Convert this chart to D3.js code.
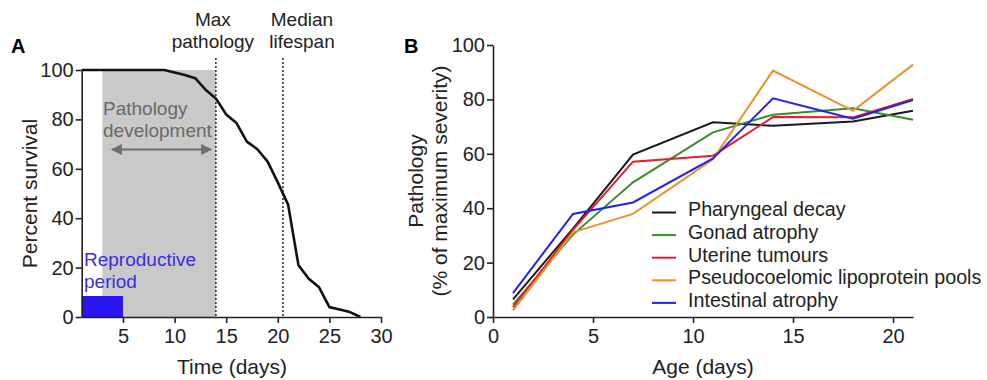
<!DOCTYPE html>
<html>
<head>
<meta charset="utf-8">
<script src="https://cdn.jsdelivr.net/npm/d3@7"></script>
<style>
    body { margin: 0; background: #fff; }
    svg text { font-family: "Liberation Sans", Arial, Helvetica, sans-serif; }
    .axis path, .axis line { stroke: #222; stroke-width: 1.6px; }
    .axis text { font-size: 20px; fill: #222; }
</style>
</head>
<body>
<div id="chart"></div>
<script>
// panel A data - survival
var survDays = [1, 2, 3, 4, 5, 6, 7, 8, 9, 10, 11, 12, 13, 14, 15, 16, 17, 18, 19, 20, 21, 22, 23, 24, 25, 26, 27, 28];
var survPct = [100, 100, 100, 100, 100, 100, 100, 100, 100, 99, 98, 96.7, 92, 88.5, 82, 78.5, 71, 68, 63, 54.5, 45.5, 21, 15.5, 12, 4, 3, 2, 0];
var survTicksX = [5, 10, 15, 20, 25, 30];
var survTicksY = [0, 20, 40, 60, 80, 100];

// shaded periods and markers (days)
var pathologyPeriod = [3, 14];
var reproPeriod = [1, 5];
var reproHeight = 8.5;
var markerDays = [14, 20.5];
var markerLabels = [["Max", "pathology"], ["Median", "lifespan"]];

// panel B data - pathology by age
var ageDays = [1, 4, 7, 11, 14, 18, 21];
var pharyngeal = [6.5, 32.5, 59.7, 71.6, 70.3, 71.9, 75.8];
var gonad = [4.5, 30.3, 49.5, 67.9, 74.4, 76.7, 72.5];
var uterine = [3.5, 32, 57.1, 59.3, 73.5, 73.4, 80.2];
var pseudo = [2.4, 31.1, 37.9, 58, 90.6, 75.8, 92.8];
var intestinal = [8.8, 37.9, 42.1, 58.3, 80.4, 72.9, 79.8];
var seriesNames = ["Pharyngeal decay", "Gonad atrophy", "Uterine tumours", "Pseudocoelomic lipoprotein pools", "Intestinal atrophy"];
var seriesColors = ["#1a1a1a", "#3a8c2c", "#e0202c", "#e8932c", "#2222ee"];
var pathTicksX = [0, 5, 10, 15, 20];
var pathTicksY = [0, 20, 40, 60, 80, 100];

var svgWidth = 987;
var svgHeight = 380;

var svg = d3.select("#chart")
    .append("svg")
    .attr("width", svgWidth)
    .attr("height", svgHeight);

// arrow heads for "pathology development"
var defs = svg.append("defs");
defs.append("marker")
    .attr("id", "head")
    .attr("viewBox", "0 0 10 10")
    .attr("refX", 9)
    .attr("refY", 5)
    .attr("markerWidth", 5)
    .attr("markerHeight", 5)
    .attr("markerUnits", "strokeWidth")
    .attr("orient", "auto-start-reverse")
    .append("path")
    .attr("d", "M0,0 L10,5 L0,10 z")
    .attr("fill", "#6e6e6e");

// ---------------- panel A ----------------
var xA = d3.scaleLinear().domain([1, 30]).range([81.7, 381]);
var yA = d3.scaleLinear().domain([0, 100]).range([317, 70]);

// grey pathology box
svg.append("rect")
    .attr("x", xA(pathologyPeriod[0]))
    .attr("y", yA(100))
    .attr("width", xA(pathologyPeriod[1]) - xA(pathologyPeriod[0]))
    .attr("height", yA(0) - yA(100))
    .attr("fill", "#c9c9c9");

// blue reproductive box
svg.append("rect")
    .attr("x", xA(reproPeriod[0]))
    .attr("y", yA(reproHeight))
    .attr("width", xA(reproPeriod[1]) - xA(reproPeriod[0]))
    .attr("height", yA(0) - yA(reproHeight))
    .attr("fill", "#2a16f2");

// dotted marker lines
svg.selectAll(".marker")
    .data(markerDays)
    .enter()
    .append("line")
    .attr("x1", d => xA(d))
    .attr("x2", d => xA(d))
    .attr("y1", 58)
    .attr("y2", yA(0))
    .attr("stroke", "#333")
    .attr("stroke-width", 1.6)
    .attr("stroke-dasharray", "2,2");

// labels above the marker lines (offset from the line a bit)
var labelShift = [-3, 19];
markerLabels.forEach(function (lines, i) {
    var cx = xA(markerDays[i]) + labelShift[i];
    var t = svg.append("text")
        .attr("x", cx)
        .attr("y", 26)
        .attr("text-anchor", "middle")
        .style("font-size", "19px")
        .attr("fill", "#222");
    lines.forEach(function (s, j) {
        t.append("tspan")
            .attr("x", cx)
            .attr("dy", j === 0 ? 0 : 22)
            .text(s);
    });
});

// survival line
var survLine = d3.line()
    .x((d, i) => xA(survDays[i]))
    .y(d => yA(d));

svg.append("path")
    .datum(survPct)
    .attr("d", survLine)
    .attr("fill", "none")
    .attr("stroke", "#111")
    .attr("stroke-width", 2.6)
    .attr("stroke-linejoin", "round");

// axes A
svg.append("g")
    .attr("class", "axis")
    .attr("transform", `translate(0, ${yA(0)})`)
    .call(d3.axisBottom(xA).tickValues(survTicksX).tickSize(6).tickSizeOuter(0).tickPadding(6));

svg.append("g")
    .attr("class", "axis")
    .attr("transform", `translate(${xA(1)}, 0)`)
    .call(d3.axisLeft(yA).tickValues(survTicksY).tickSize(6).tickSizeOuter(0).tickPadding(2));

// annotations A
svg.append("text")
    .attr("x", 103)
    .attr("y", 115)
    .attr("fill", "#6a6a6a")
    .style("font-size", "19px")
    .text("Pathology");
svg.append("text")
    .attr("x", 103)
    .attr("y", 137)
    .attr("fill", "#6a6a6a")
    .style("font-size", "19px")
    .text("development");

svg.append("line")
    .attr("x1", 112)
    .attr("x2", 211)
    .attr("y1", 149.5)
    .attr("y2", 149.5)
    .attr("stroke", "#6e6e6e")
    .attr("stroke-width", 2.2)
    .attr("marker-start", "url(#head)")
    .attr("marker-end", "url(#head)");

svg.append("text")
    .attr("x", 84)
    .attr("y", 266)
    .attr("fill", "#3b2ce6")
    .style("font-size", "19px")
    .text("Reproductive");
svg.append("text")
    .attr("x", 84)
    .attr("y", 288)
    .attr("fill", "#3b2ce6")
    .style("font-size", "19px")
    .text("period");

svg.append("text")
    .attr("x", 232)
    .attr("y", 374)
    .attr("text-anchor", "middle")
    .style("font-size", "21px")
    .attr("fill", "#222")
    .text("Time (days)");

svg.append("text")
    .attr("transform", `translate(37, ${(yA(0) + yA(100)) / 2}) rotate(-90)`)
    .attr("text-anchor", "middle")
    .style("font-size", "21px")
    .attr("fill", "#222")
    .text("Percent survival");

svg.append("text")
    .attr("x", 11)
    .attr("y", 53)
    .style("font-size", "20px")
    .style("font-weight", "bold")
    .text("A");

// ---------------- panel B ----------------
var xB = d3.scaleLinear().domain([0, 21]).range([493, 913]);
var yB = d3.scaleLinear().domain([0, 100]).range([317, 45]);

var allSeries = [pharyngeal, gonad, uterine, pseudo, intestinal];

var pathLine = d3.line()
    .x((d, i) => xB(ageDays[i]))
    .y(d => yB(d));

svg.selectAll(".series")
    .data(allSeries)
    .enter()
    .append("path")
    .attr("class", "series")
    .attr("d", pathLine)
    .attr("fill", "none")
    .attr("stroke", (d, i) => seriesColors[i])
    .attr("stroke-width", 2);

svg.append("g")
    .attr("class", "axis")
    .attr("transform", `translate(0, ${yB(0)})`)
    .call(d3.axisBottom(xB).tickValues(pathTicksX).tickSize(6).tickSizeOuter(0).tickPadding(6));

svg.append("g")
    .attr("class", "axis")
    .attr("transform", `translate(${xB(0)}, 0)`)
    .call(d3.axisLeft(yB).tickValues(pathTicksY).tickSize(6).tickSizeOuter(0).tickPadding(2));

// legend
var legend = svg.append("g")
    .attr("transform", "translate(652, 212.5)");

var legendRows = legend.selectAll("g")
    .data(seriesNames)
    .enter()
    .append("g")
    .attr("transform", (d, i) => `translate(0, ${i * 22.6})`);

legendRows.append("line")
    .attr("x1", 0)
    .attr("x2", 24)
    .attr("stroke", (d, i) => seriesColors[i])
    .attr("stroke-width", 2);

legendRows.append("text")
    .attr("x", 36)
    .attr("dy", "0.2em")
    .style("font-size", "19.7px")
    .attr("fill", "#222")
    .text(d => d);

svg.append("text")
    .attr("x", xB(10.5))
    .attr("y", 374)
    .attr("text-anchor", "middle")
    .style("font-size", "21px")
    .attr("fill", "#222")
    .text("Age (days)");

var yLabelB = svg.append("text")
    .attr("transform", `translate(423, ${(yB(0) + yB(100)) / 2}) rotate(-90)`)
    .attr("text-anchor", "middle")
    .style("font-size", "21px")
    .attr("fill", "#222");
yLabelB.append("tspan").attr("x", 0).attr("dy", 0).text("Pathology");
yLabelB.append("tspan").attr("x", 0).attr("dy", 24).text("(% of maximum severity)");

svg.append("text")
    .attr("x", 404)
    .attr("y", 53)
    .style("font-size", "20px")
    .style("font-weight", "bold")
    .text("B");
</script>
</body>
</html>
